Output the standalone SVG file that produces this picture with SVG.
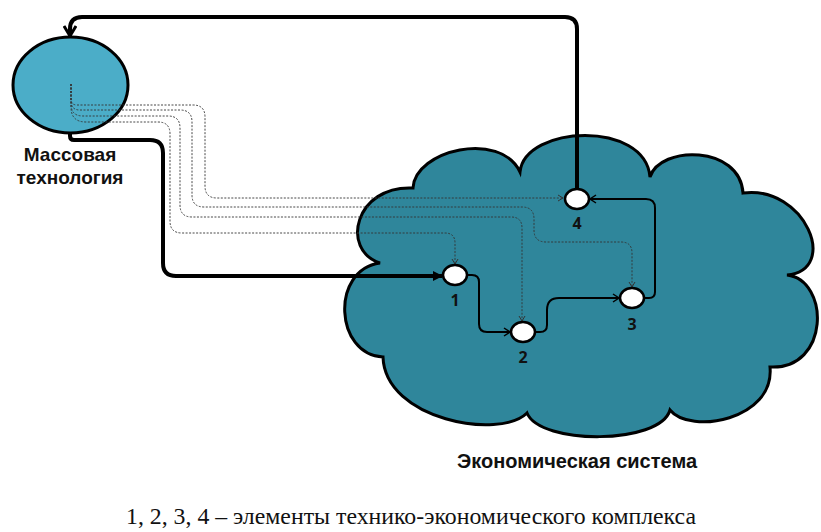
<svg xmlns="http://www.w3.org/2000/svg" width="821" height="532" viewBox="0 0 821 532">
<style>
.lbl{font-family:"Liberation Sans","Open Sans",sans-serif;font-weight:bold;fill:#111;}
.num{font-family:"Open Sans","Liberation Sans",sans-serif;font-weight:bold;font-size:16px;fill:#111;text-anchor:middle;}
.thick{fill:none;stroke:#000;stroke-width:4;stroke-linejoin:round;}
.thin{fill:none;stroke:#000;stroke-width:2;}
.dot{fill:none;stroke:#333;stroke-width:0.9;stroke-dasharray:2 1.5;}
.node{fill:#fff;stroke:#000;stroke-width:2.5;}
</style>
<defs>
<marker id="tri" markerWidth="10" markerHeight="10" refX="9" refY="5" orient="auto" markerUnits="userSpaceOnUse" viewBox="0 0 10 10">
<path d="M0,0 L10,5 L0,10 Z" fill="#000"/>
</marker>
<marker id="vee" markerWidth="14" markerHeight="14" refX="12" refY="7" orient="auto" markerUnits="userSpaceOnUse" viewBox="0 0 14 14">
<path d="M2,1 L12,7 L2,13" fill="none" stroke="#000" stroke-width="3"/>
</marker>
<marker id="chev" markerWidth="10" markerHeight="10" refX="8" refY="5" orient="auto" markerUnits="userSpaceOnUse" viewBox="0 0 10 10">
<path d="M2,1 L8,5 L2,9" fill="none" stroke="#000" stroke-width="1.5"/>
</marker>
<marker id="dchev" markerWidth="8" markerHeight="8" refX="6" refY="4" orient="auto" markerUnits="userSpaceOnUse" viewBox="0 0 8 8">
<path d="M1,1 L6,4 L1,7" fill="none" stroke="#333" stroke-width="1"/>
</marker>
</defs>

<g id="economic-system">
<path d="M380,263 C340,250 355,185 413,188 C415,150 500,130 520,172 C525,125 645,120 650,177 C660,145 740,145 743,193 C805,185 840,270 787,275 C830,280 830,370 770,367 C775,420 690,435 670,410 C660,445 540,445 527,413 C500,440 385,420 383,357 C335,355 330,270 380,263 Z" fill="#2f869b" stroke="#000" stroke-width="3"/>
<text class="lbl" x="577" y="468" font-size="20" text-anchor="middle">Экономическая система</text>
</g>

<g id="mass-technology">
<ellipse cx="70.5" cy="85" rx="57.5" ry="48" fill="#4badc8" stroke="#000" stroke-width="3"/>
<text class="lbl" x="70" y="161" font-size="19" text-anchor="middle">Массовая</text>
<text class="lbl" x="70" y="184" font-size="19" text-anchor="middle">технология</text>
</g>

<g id="connectors">
<path class="dot" d="M71,84 L71,99 Q71,105 77,105 L193,105 Q205,105 205,117 L205,186 Q205,198 217,198 L563,198" marker-end="url(#dchev)"/>
<path class="dot" d="M71,84 L71,101 Q71,110 80,110 L180,110 Q192,110 192,122 L192,195 Q192,207 204,207 L522,207 Q534,207 534,219 L534,230 Q534,242 546,242 L621,242 Q632,242 632,253 L632,287" marker-end="url(#dchev)"/>
<path class="dot" d="M71,84 L71,104 Q71,116 83,116 L168,116 Q180,116 180,128 L180,205 Q180,217 192,217 L511,217 Q522,217 522,228 L522,321" marker-end="url(#dchev)"/>
<path class="dot" d="M71,84 L71,107 Q71,122 86,122 L158,122 Q170,122 170,134 L170,221 Q170,233 182,233 L445,233 Q455,233 455,243 L455,264" marker-end="url(#dchev)"/>

<path class="thick" d="M70,133 L70,136 Q70,140 74,140 L150,140 Q163,140 163,153 L163,263 Q163,276 176,276 L442,276" marker-end="url(#tri)"/>
<path class="thick" d="M577,188 L577,29 Q577,17 565,17 L82,17 Q70,17 70,29 L70,36" marker-end="url(#vee)"/>

<path class="thin" d="M467,275 L472,275 Q479,275 479,282 L479,324 Q479,332 487,332 L510,332" marker-end="url(#chev)"/>
<path class="thin" d="M535,332 L540,332 Q547,332 547,325 L547,310 Q547,298 559,298 L619,298" marker-end="url(#chev)"/>
<path class="thin" d="M645,298 L649,298 Q655,298 655,292 L655,208 Q655,199 646,199 L590,199" marker-end="url(#chev)"/>
</g>

<g id="node-1"><ellipse class="node" cx="455" cy="275" rx="12" ry="10"/><text class="num" x="455" y="306">1</text></g>
<g id="node-2"><ellipse class="node" cx="523" cy="332" rx="12" ry="10"/><text class="num" x="523" y="363">2</text></g>
<g id="node-3"><ellipse class="node" cx="632" cy="298" rx="12" ry="10"/><text class="num" x="632" y="330">3</text></g>
<g id="node-4"><ellipse class="node" cx="577" cy="199" rx="12" ry="10"/><text class="num" x="577" y="229">4</text></g>

<text x="411" y="524" font-family="Liberation Serif,serif" font-size="23.8" text-anchor="middle" fill="#111">1, 2, 3, 4 – элементы технико-экономического комплекса</text>
</svg>
